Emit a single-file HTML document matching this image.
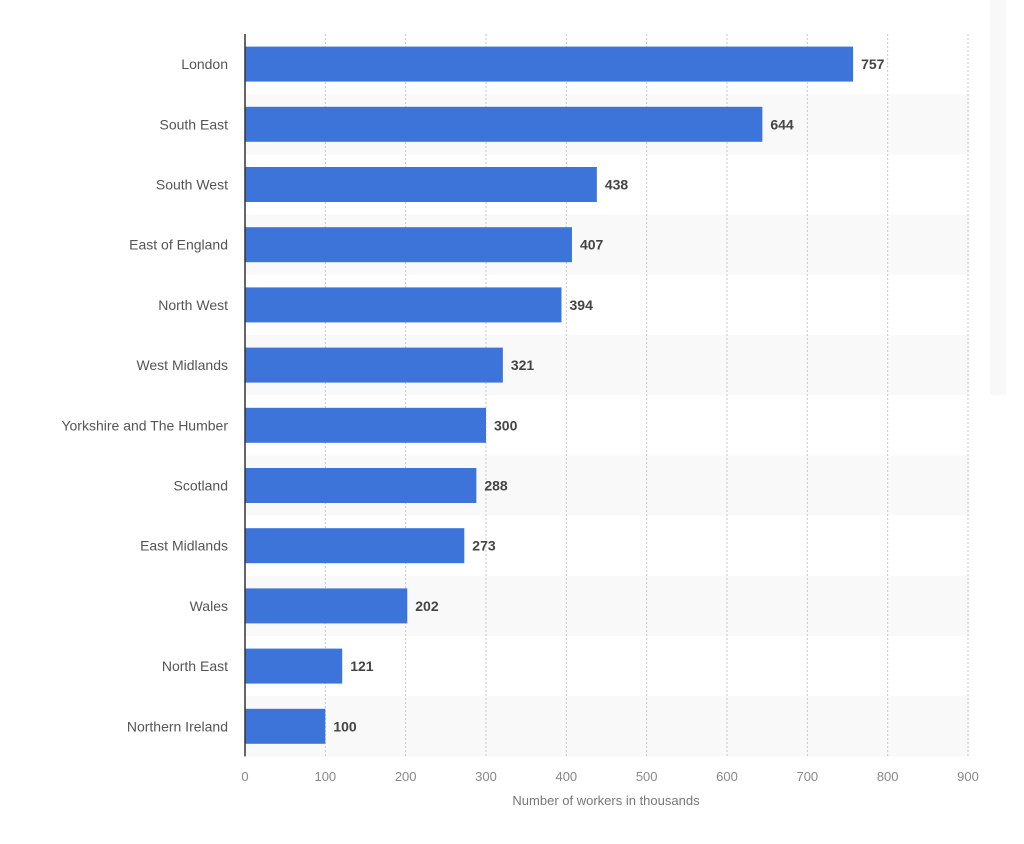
<!DOCTYPE html>
<html><head><meta charset="utf-8"><style>
body{margin:0;background:#fff;}
svg{display:block;font-family:"Liberation Sans",sans-serif;}
</style></head><body>
<svg id="chart" width="1024" height="844">
<rect x="990" y="0" width="16" height="395" fill="#f8f8f8"/>
</svg>
<script>
const categories=["London","South East","South West","East of England","North West","West Midlands","Yorkshire and The Humber","Scotland","East Midlands","Wales","North East","Northern Ireland"];
const values=[757,644,438,407,394,321,300,288,273,202,121,100];
const ticks=[0,100,200,300,400,500,600,700,800,900];
const svg=document.getElementById('chart');
const NS='http://www.w3.org/2000/svg';
const x0=245,x1=968,topY=34,rowH=60.2;
const xs=v=>x0+v*(x1-x0)/900;
const yc=i=>topY+rowH*(i+0.5);
function mk(t,a,p){const e=document.createElementNS(NS,t);for(const k in a)e.setAttribute(k,a[k]);(p||svg).appendChild(e);return e;}
categories.forEach((c,i)=>{if(i%2==1){const r=mk('rect',{x:x0,y:topY+rowH*i,width:x1-x0+2,height:rowH,fill:'#f9f9f9'});

}});
ticks.forEach(t=>{if(t>0){const l=mk('line',{x1:xs(t),x2:xs(t),y1:topY,y2:topY+rowH*12,stroke:'#c8c8c8','stroke-dasharray':'2,2'});

}
const tx=mk('text',{x:xs(t),y:781,'text-anchor':'middle','font-size':13,fill:'#888'});tx.textContent=t;

});
categories.forEach((c,i)=>{const y=yc(i);
const b=mk('rect',{x:x0,y:y-17.5,width:xs(values[i])-x0,height:35,fill:'#3d74d9'});


const l=mk('text',{x:228,y:y+5,'text-anchor':'end','font-size':14,fill:'#555'});l.textContent=c;


const v=mk('text',{x:xs(values[i])+8,y:y+5,'font-size':14,'font-weight':'bold',fill:'#444'});v.textContent=values[i];

});
const ax=mk('line',{x1:x0,x2:x0,y1:topY,y2:topY+rowH*12,stroke:'#333','stroke-width':1.5});


const tt=mk('text',{x:606,y:805,'text-anchor':'middle','font-size':13,fill:'#777'});tt.textContent='Number of workers in thousands';


</script>
</body></html>
